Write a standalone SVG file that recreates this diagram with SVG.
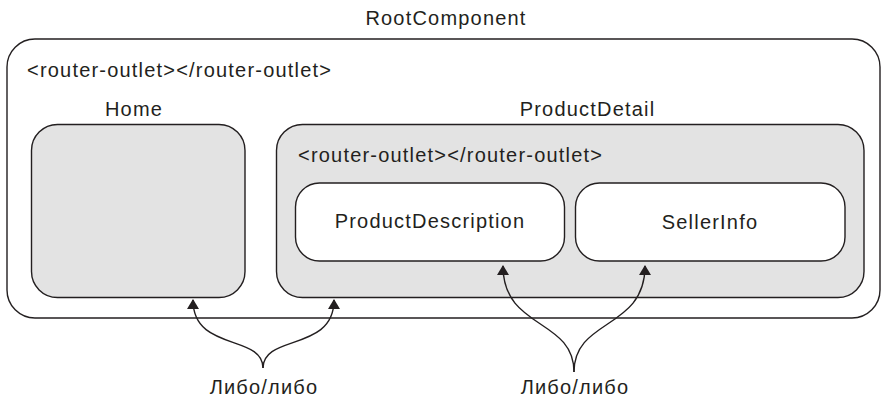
<svg xmlns="http://www.w3.org/2000/svg" width="882" height="399" viewBox="0 0 882 399">
  <style>
    .box { stroke: #231f20; stroke-width: 1.4; }
    .gray { fill: #e3e3e3; }
    .white { fill: #ffffff; }
    text { font-family: "Liberation Sans", Arial, sans-serif; font-size: 20px; letter-spacing: 1.2px; fill: #231f20; }
    .mid { text-anchor: middle; }
    .link { fill: none; stroke: #231f20; stroke-width: 1.4; }
  </style>
  <defs>
    <!-- upward-pointing arrowhead; connectors all end heading straight up -->
    <marker id="tip" viewBox="0 0 12 10" refX="6" refY="1" markerWidth="12" markerHeight="10" markerUnits="userSpaceOnUse" orient="0">
      <path d="M0,10 L6,0 L12,10 Z" fill="#231f20"/>
    </marker>
  </defs>

  <rect width="882" height="399" fill="#ffffff"/>

  <g id="root-component">
    <text class="mid" x="446" y="25">RootComponent</text>
    <rect class="box white" x="7" y="39" width="873" height="279" rx="28"/>
    <text x="27" y="77">&lt;router-outlet&gt;&lt;/router-outlet&gt;</text>
  </g>

  <g id="home">
    <text class="mid" x="134" y="115.5">Home</text>
    <rect class="box gray" x="31.5" y="124.5" width="213.5" height="173" rx="26"/>
  </g>

  <g id="product-detail">
    <text class="mid" x="587.5" y="115.5">ProductDetail</text>
    <rect class="box gray" x="276.5" y="124.5" width="587.5" height="173" rx="26"/>
    <text x="298" y="162">&lt;router-outlet&gt;&lt;/router-outlet&gt;</text>
  </g>

  <g id="product-description">
    <rect class="box white" x="295.5" y="183" width="269" height="78" rx="24"/>
    <text class="mid" x="430" y="228">ProductDescription</text>
  </g>

  <g id="seller-info">
    <rect class="box white" x="575.5" y="183" width="269.5" height="78" rx="24"/>
    <text class="mid" x="710" y="229">SellerInfo</text>
  </g>

  <g id="connectors">
    <path class="link" d="M263,368 C263,334 193,352 193,300" marker-end="url(#tip)"/>
    <path class="link" d="M263,368 C263,334 334,352 334,300" marker-end="url(#tip)"/>
    <path class="link" d="M574,372 C574,318 503,330 503,266" marker-end="url(#tip)"/>
    <path class="link" d="M574,372 C574,318 645,330 645,266" marker-end="url(#tip)"/>
  </g>

  <g id="labels">
    <text class="mid" x="264" y="394">Либо/либо</text>
    <text class="mid" x="575" y="394">Либо/либо</text>
  </g>
</svg>
